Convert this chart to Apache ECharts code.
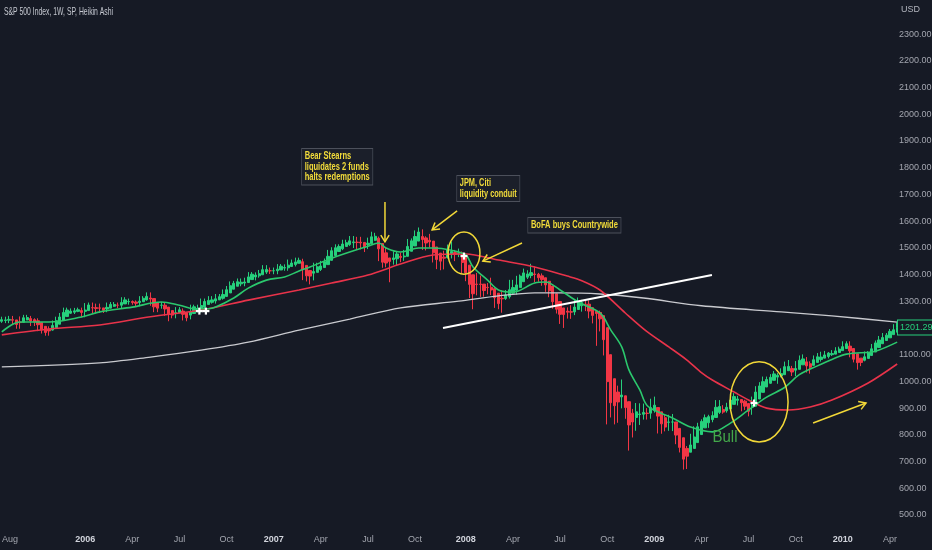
<!DOCTYPE html>
<html><head><meta charset="utf-8">
<script src="https://cdn.jsdelivr.net/npm/echarts@6/dist/echarts.min.js"></script>
<style>html,body{margin:0;padding:0;background:#161a25;}#c{width:932px;height:550px;}</style>
</head><body><div id="c"></div>
<script>
// ---- data (weekly Heikin Ashi, S&P 500, from week of 2005-07-25) ----
const startDate = [2005, 6, 25];
const haOpen = [1225,1228,1229,1231,1230,1222,1221,1230,1235,1231,
1227,1220,1206,1195,1192,1201,1214,1228,1243,1255,
1259,1262,1265,1262,1265,1276,1276,1275,1275,1271,
1274,1281,1285,1285,1290,1298,1299,1297,1295,1298,
1305,1312,1310,1295,1285,1285,1278,1265,1257,1257,
1263,1257,1248,1254,1267,1270,1277,1288,1296,1301,
1305,1311,1318,1331,1345,1356,1365,1368,1370,1381,
1391,1395,1399,1409,1414,1414,1414,1417,1424,1425,
1430,1437,1442,1448,1434,1415,1405,1408,1419,1426,
1437,1453,1471,1486,1496,1505,1512,1519,1521,1521,
1520,1512,1515,1528,1536,1516,1481,1462,1456,1459,
1468,1466,1468,1487,1507,1525,1542,1537,1528,1525,
1503,1480,1465,1463,1478,1482,1479,1480,1463,1435,
1399,1364,1364,1364,1352,1352,1347,1330,1311,1310,
1317,1330,1341,1351,1373,1390,1396,1402,1401,1395,
1388,1375,1357,1328,1299,1275,1263,1261,1260,1269,
1283,1289,1289,1276,1262,1258,1246,1201,1100,1010,
960,942,946,924,881,865,876,877,881,881,
892,902,886,864,847,848,848,824,789,749,
735,749,771,801,826,845,857,865,884,895,
890,897,914,929,932,926,917,903,907,934,
959,979,993,1004,1016,1020,1025,1040,1048,1042,
1045,1062,1073,1066,1060,1071,1082,1087,1093,1100,
1102,1108,1115,1123,1132,1123,1103,1087,1079,1086,
1097,1110,1127,1141,1153,1163,1175,1184];
const haClose = [1231,1230,1232,1229,1213,1220,1238,1239,1226,1222,
1212,1192,1183,1189,1209,1227,1241,1258,1267,1263,
1264,1268,1258,1267,1286,1275,1273,1274,1266,1277,
1288,1288,1285,1295,1305,1299,1295,1292,1300,1311,
1318,1308,1279,1274,1285,1271,1252,1248,1257,1268,
1251,1238,1260,1279,1273,1284,1299,1303,1305,1309,
1317,1325,1343,1358,1367,1373,1371,1372,1391,1401,
1398,1403,1418,1419,1414,1414,1420,1431,1426,1435,
1443,1447,1453,1419,1395,1394,1411,1429,1432,1448,
1468,1489,1500,1505,1514,1519,1526,1522,1520,1518,
1503,1517,1541,1543,1496,1446,1443,1449,1462,1477,
1464,1469,1505,1526,1542,1559,1531,1518,1522,1481,
1456,1450,1461,1493,1486,1476,1481,1445,1406,1363,
1328,1363,1363,1340,1351,1342,1313,1291,1309,1323,
1343,1351,1361,1394,1406,1402,1407,1400,1388,1381,
1361,1339,1298,1270,1251,1250,1259,1259,1278,1297,
1295,1288,1263,1247,1254,1234,1156,999,920,909,
923,949,902,837,848,886,878,884,880,902,
911,870,841,829,848,848,799,753,709,720,
762,792,830,850,864,868,872,903,906,885,
903,930,943,934,920,907,888,910,960,983,
999,1007,1015,1028,1023,1029,1055,1056,1035,1048,
1079,1084,1058,1053,1081,1092,1091,1099,1106,1104,
1114,1121,1130,1141,1114,1083,1070,1071,1092,1107,
1122,1144,1155,1164,1173,1187,1193,1201.29];
const haLow = [1219,1218,1218,1212,1197,1197,1221,1229,1207,1207,
1188,1179,1171,1171,1190,1201,1214,1228,1243,1252,
1252,1259,1240,1240,1265,1254,1254,1256,1256,1259,
1274,1279,1274,1274,1290,1287,1287,1281,1281,1298,
1302,1283,1259,1259,1272,1245,1225,1236,1236,1257,
1228,1225,1232,1254,1258,1258,1277,1287,1291,1291,
1305,1306,1318,1331,1345,1356,1356,1356,1370,1381,
1378,1388,1399,1402,1402,1401,1401,1417,1414,1414,
1430,1430,1442,1379,1374,1363,1378,1408,1413,1426,
1437,1453,1471,1486,1491,1505,1507,1499,1492,1494,
1484,1495,1515,1526,1450,1425,1427,1371,1437,1432,
1446,1451,1468,1487,1507,1525,1492,1490,1501,1445,
1420,1416,1419,1460,1460,1450,1465,1405,1375,1312,
1270,1322,1316,1317,1326,1323,1275,1270,1257,1305,
1310,1324,1325,1351,1373,1383,1386,1371,1373,1358,
1335,1315,1272,1254,1215,1200,1235,1234,1248,1269,
1261,1263,1236,1217,1133,1187,1097,839,865,839,
845,899,860,741,790,815,837,857,857,860,
883,805,804,813,815,814,765,734,670,672,
735,749,771,801,826,826,847,865,878,879,
883,897,914,910,888,893,869,875,907,934,
959,979,991,1004,991,1015,1025,1040,1020,1020,
1045,1062,1033,1029,1060,1071,1074,1087,1086,1095,
1102,1108,1115,1123,1090,1071,1044,1057,1075,1086,
1097,1110,1127,1141,1153,1163,1175,1184];
const haHigh = [1242,1242,1245,1245,1230,1243,1249,1249,1245,1236,
1236,1220,1206,1206,1228,1242,1256,1276,1276,1273,
1275,1276,1276,1293,1295,1295,1291,1291,1275,1295,
1297,1297,1295,1315,1315,1310,1303,1303,1319,1319,
1333,1333,1310,1295,1297,1297,1278,1265,1278,1278,
1273,1257,1287,1287,1287,1310,1310,1319,1319,1327,
1327,1344,1357,1374,1376,1385,1385,1388,1409,1409,
1408,1417,1435,1435,1426,1426,1439,1439,1438,1456,
1456,1463,1463,1459,1434,1415,1444,1444,1451,1460,
1492,1502,1513,1513,1530,1530,1544,1544,1541,1541,
1520,1538,1560,1556,1542,1516,1503,1462,1487,1488,
1482,1492,1533,1535,1565,1576,1569,1543,1552,1525,
1503,1480,1489,1512,1523,1492,1497,1486,1463,1435,
1399,1406,1396,1364,1368,1388,1347,1330,1341,1342,
1380,1380,1395,1400,1422,1416,1440,1430,1406,1404,
1388,1375,1357,1328,1299,1275,1277,1285,1305,1314,
1305,1303,1303,1276,1262,1265,1246,1201,1100,1010,
984,1007,946,924,897,919,918,917,900,935,
943,902,886,877,875,878,848,824,789,758,
804,832,845,858,876,875,888,930,930,911,
920,947,956,946,932,931,917,943,982,997,
1018,1018,1027,1039,1031,1049,1074,1080,1058,1076,
1097,1101,1091,1075,1097,1106,1111,1114,1110,1117,
1128,1130,1150,1150,1150,1123,1103,1087,1112,1113,
1140,1153,1170,1181,1181,1196,1214,1219];
// moving averages: [week index, value]
const maFast = [[0,1185],[5,1222],[13,1222],[22,1241],[27,1260],[36,1278],[44,1297],[49,1285],[53,1272],[57,1272],[59,1278],[64,1312],[68,1349],[73,1379],[78,1391],[82,1413],[85,1428],[91,1461],[101,1506],[104,1518],[106,1499],[110,1484],[115,1499],[119,1499],[124,1491],[128,1473],[130,1428],[134,1379],[137,1342],[141,1334],[147,1368],[150,1372],[154,1342],[159,1297],[165,1256],[168,1192],[171,1129],[173,1043],[176,968],[178,910],[182,880],[185,863],[190,829],[196,811],[201,844],[206,893],[211,941],[216,978],[220,1025],[225,1058],[229,1082],[233,1102],[240,1110],[242,1117],[247,1147]];
const maSlow = [[0,1174],[13,1196],[27,1211],[41,1242],[55,1267],[68,1304],[82,1342],[91,1368],[101,1398],[110,1439],[119,1473],[128,1477],[137,1454],[147,1428],[156,1394],[160,1377],[165,1342],[172,1256],[178,1186],[184,1129],[189,1080],[193,1033],[196,1005],[202,960],[206,930],[211,900],[217,893],[223,904],[229,930],[239,994],[247,1065]];
const maLong = [[0,1054],[27,1069],[41,1091],[55,1117],[68,1147],[82,1192],[96,1233],[110,1275],[126,1300],[137,1320],[147,1331],[154,1331],[165,1327],[177,1312],[193,1283],[215,1260],[229,1245],[247,1222]];
const xTickIdx  = [1,23,36,49,62,75,88,101,114,128,141,154,167,180,193,206,219,232,245];
const xTickText = ['Aug','2006','Apr','Jul','Oct','2007','Apr','Jul','Oct','2008','Apr','Jul','Oct','2009','Apr','Jul','Oct','2010','Apr'];
const yMin = 400, yMax = 2400, yStep = 100;
// annotations (week index, price)
const notes = [
  {i:82.8, v:1870, w:65, lines:['Bear Stearns','liquidates 2 funds','halts redemptions']},
  {i:125.6, v:1769, w:57, lines:['JPM, Citi','liquidity conduit']},
  {i:145.2, v:1611, w:87, lines:['BoFA buys Countrywide']}
];
const arrows = [
  [[105.7,1671],[105.7,1522]],
  [[125.6,1638],[118.7,1567]],
  [[143.5,1518],[132.7,1450]],
  [[223.8,844],[238.4,919]]
];
const ellipses = [{i:127.5, v:1480, hw:4.4, hv:79},{i:208.9, v:923, hw:8, hv:150}];
const crosses = [[54.5,1263],[56.3,1263],[127.5,1469],[207.5,919]];
const trendLine = [[121.7,1200],[195.9,1398]];
const bullLabel = {i:199.5, v:792, w:25, text:'Bull'};
const titleText = 'S&P 500 Index, 1W, SP, Heikin Ashi';

// ---- build ----
const categories = [];
for (let k = 0; k < haClose.length; k++) {
  const d = new Date(Date.UTC(startDate[0], startDate[1], startDate[2] + 7 * k));
  categories.push(d.toISOString().slice(0, 10));
}
const tickMap = {};
xTickIdx.forEach((ix, n) => tickMap[ix] = xTickText[n]);
const candles = categories.map((c, k) => [haOpen[k], haClose[k], haLow[k], haHigh[k]]);

const FONT = "'Liberation Sans',Arial,sans-serif";
const UP = '#26d07c', DOWN = '#f23645', YEL = '#f2d838';
const chart = echarts.init(document.getElementById('c'));
chart.setOption({
  backgroundColor: '#161a25',
  animation: false,
  grid: {left: 0, right: 33, top: 7.3, bottom: 8.3, containLabel: false, outerBoundsMode: 'none'},
  xAxis: {
    type: 'category', data: categories, boundaryGap: true, offset: -10,
    axisLine: {show: false}, axisTick: {show: false}, splitLine: {show: false},
    axisLabel: {
      interval: (idx) => tickMap[idx] !== undefined,
      formatter: (val, idx) => {
        const t = tickMap[idx] || '';
        if (idx === xTickIdx[0]) return '{f|' + t + '}';
        return /^\d{4}$/.test(t) ? '{y|' + t + '}' : t;
      },
      color: '#a3a6af', fontSize: 9, fontFamily: FONT, margin: 3, hideOverlap: false,
      rich: {
        y: {fontWeight: 'bold', color: '#d1d4dc', fontSize: 9, fontFamily: FONT},
        f: {color: '#a3a6af', fontSize: 9, fontFamily: FONT, padding: [0, 0, 0, 9]}
      }
    }
  },
  yAxis: {
    type: 'value', position: 'right', min: yMin, max: yMax, interval: yStep,
    axisLine: {show: false}, axisTick: {show: false}, splitLine: {show: false},
    axisLabel: {
      formatter: (v) => (v <= yMin || v >= yMax) ? '' : v.toFixed(2),
      color: '#a3a6af', fontSize: 9, fontFamily: FONT, margin: 0
    }
  },
  series: [
    {type: 'candlestick', data: candles, barWidth: 2.8,
     itemStyle: {color: UP, color0: DOWN, borderColor: UP, borderColor0: DOWN, borderWidth: 1}},
    {type: 'line', data: maLong, smooth: 0.3, showSymbol: false,
     lineStyle: {color: '#c9cacf', width: 1.3}},
    {type: 'line', data: maSlow, smooth: 0.3, showSymbol: false,
     lineStyle: {color: '#e8334a', width: 1.6}},
    {type: 'line', data: maFast, smooth: 0.35, showSymbol: false,
     lineStyle: {color: '#2bc86d', width: 1.6}}
  ]
});

const mctx = document.createElement('canvas').getContext('2d');
function fitScale(lines, font, target) {
  mctx.font = font;
  let w = 0;
  lines.forEach(l => { w = Math.max(w, mctx.measureText(l).width); });
  return w > 0 ? target / w : 1;
}
function P(i, v) {
  const a = chart.convertToPixel({gridIndex: 0}, [0, v]);
  const b = chart.convertToPixel({gridIndex: 0}, [1, v]);
  return [a[0] + (b[0] - a[0]) * i, a[1]];
}
const g = [];
// title & currency
const tFont = '11px ' + FONT;
g.push({type: 'text', x: 4, y: 6, z: 100, scaleX: fitScale([titleText], tFont, 109), style: {text: titleText, fill: '#c5c8d0', font: tFont}});
g.push({type: 'text', x: 901, y: 5, z: 100, style: {text: 'USD', fill: '#b2b5be', font: '9px ' + FONT}});
// trend line
const t0 = P(trendLine[0][0], trendLine[0][1]), t1 = P(trendLine[1][0], trendLine[1][1]);
g.push({type: 'line', z: 50, shape: {x1: t0[0], y1: t0[1], x2: t1[0], y2: t1[1]}, style: {stroke: '#ffffff', lineWidth: 2}});
// ellipses
ellipses.forEach(e => {
  const c = P(e.i, e.v);
  const rx = P(e.i + e.hw, e.v)[0] - c[0];
  const ry = c[1] - P(e.i, e.v + e.hv)[1];
  g.push({type: 'ellipse', z: 50, shape: {cx: c[0], cy: c[1], rx: rx, ry: ry}, style: {fill: 'none', stroke: YEL, lineWidth: 1.5}});
});
// arrows
arrows.forEach(a => {
  const f = P(a[0][0], a[0][1]), t = P(a[1][0], a[1][1]);
  const ang = Math.atan2(t[1] - f[1], t[0] - f[0]), L = 8, w = 0.55;
  const p1 = [t[0] - L * Math.cos(ang - w), t[1] - L * Math.sin(ang - w)];
  const p2 = [t[0] - L * Math.cos(ang + w), t[1] - L * Math.sin(ang + w)];
  g.push({type: 'line', z: 50, shape: {x1: f[0], y1: f[1], x2: t[0], y2: t[1]}, style: {stroke: YEL, lineWidth: 1.5}});
  g.push({type: 'polyline', z: 50, shape: {points: [p1, t, p2]}, style: {stroke: YEL, lineWidth: 1.5, fill: 'none'}});
});
// crosses
crosses.forEach(c => {
  const p = P(c[0], c[1]), s = 3.5;
  g.push({type: 'line', z: 60, shape: {x1: p[0] - s, y1: p[1], x2: p[0] + s, y2: p[1]}, style: {stroke: '#ffffff', lineWidth: 2.2}});
  g.push({type: 'line', z: 60, shape: {x1: p[0], y1: p[1] - s, x2: p[0], y2: p[1] + s}, style: {stroke: '#ffffff', lineWidth: 2.2}});
});
// note boxes
const nFont = 'bold 11px ' + FONT;
notes.forEach(n => {
  const p = P(n.i, n.v);
  g.push({type: 'text', x: p[0], y: p[1], z: 70, scaleX: fitScale(n.lines, nFont, n.w), style: {
    text: n.lines.join('\n'), fill: '#f2dc3a', font: nFont, lineHeight: 10.5,
    backgroundColor: '#1b1f2a', borderColor: '#4c505b', borderWidth: 1, padding: [2, 4, 2, 4]}});
});
// Bull label
const bp = P(bullLabel.i, bullLabel.v);
const bFont = '17px ' + FONT;
g.push({type: 'text', x: bp[0], y: bp[1], z: 70, scaleX: fitScale([bullLabel.text], bFont, bullLabel.w),
  style: {text: bullLabel.text, fill: '#43a84a', font: bFont, align: 'center', verticalAlign: 'middle'}});
// last price label
const lastV = haClose[haClose.length - 1];
const lp = P(haClose.length - 1, lastV);
g.push({type: 'text', x: 898, y: lp[1], z: 80, style: {
  text: lastV.toFixed(2), fill: UP, font: '9px ' + FONT, verticalAlign: 'middle',
  backgroundColor: '#161a25', borderColor: UP, borderWidth: 1, padding: [3, 2, 2, 2]}});
chart.setOption({graphic: g});
</script></body></html>
